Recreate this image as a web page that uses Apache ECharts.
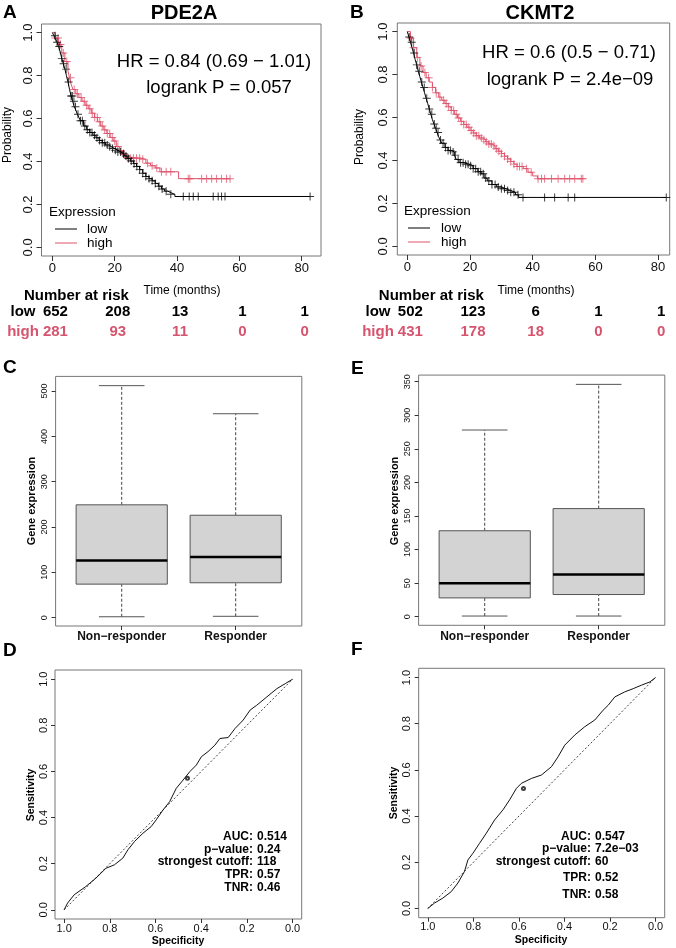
<!DOCTYPE html>
<html>
<head>
<meta charset="utf-8">
<script src="https://cdn.jsdelivr.net/npm/echarts@6/dist/echarts.min.js"></script>
<style>html,body{margin:0;padding:0;background:#fff}#main{width:676px;height:948px}</style>
</head>
<body>
<div id="main"></div>
<script>
// Kaplan-Meier curves, [time (months), survival probability]
var kmLowA = [[0,1],[0.5,0.985],[1,0.97],[1.5,0.955],[2,0.935],[2.5,0.91],[3,0.88],[3.5,0.855],[4,0.83],[4.5,0.8],[5,0.77],[5.5,0.735],[6,0.705],[6.5,0.68],[7,0.655],[7.5,0.64],[8,0.62],[8.5,0.605],[9,0.59],[10,0.565],[11,0.548],[12,0.535],[13,0.522],[14,0.51],[15,0.498],[16,0.487],[17,0.477],[18,0.468],[19,0.46],[20,0.452],[21,0.444],[22,0.436],[23,0.426],[24,0.414],[25,0.402],[26,0.39],[27,0.377],[28,0.362],[29,0.345],[30,0.33],[31,0.32],[32,0.31],[33,0.298],[34,0.285],[35,0.272],[36,0.262],[37,0.255],[38,0.247],[39.3,0.237],[82.7,0.237]];
var kmHighA = [[0,1],[1,0.975],[2,0.945],[3,0.905],[4,0.865],[5,0.82],[5.5,0.79],[6,0.76],[6.6,0.735],[7.5,0.715],[8.5,0.698],[9.5,0.68],[10.5,0.662],[11.5,0.645],[12.5,0.625],[13.5,0.605],[14.5,0.585],[15.5,0.565],[16.5,0.547],[17.5,0.53],[18.5,0.512],[19.5,0.495],[20.5,0.47],[21.5,0.45],[22.5,0.432],[23.5,0.42],[25,0.415],[28.5,0.41],[30,0.392],[31.5,0.38],[33,0.37],[34.5,0.352],[40.5,0.32],[57,0.32]];
var kmLowB = [[0,1],[0.5,0.975],[1,0.95],[1.5,0.925],[2,0.9],[2.5,0.87],[3,0.845],[3.5,0.815],[4,0.79],[4.5,0.765],[5,0.74],[5.5,0.715],[6,0.69],[6.5,0.665],[7,0.64],[7.5,0.615],[8,0.59],[8.5,0.57],[9,0.55],[9.5,0.53],[10,0.51],[10.5,0.495],[11,0.48],[12,0.46],[13,0.447],[14,0.44],[15,0.425],[15.6,0.405],[16.5,0.39],[18,0.383],[19.5,0.375],[21,0.362],[22.5,0.348],[23.5,0.338],[24.5,0.318],[25.5,0.305],[27,0.288],[28.5,0.277],[30,0.268],[31.5,0.26],[33,0.252],[34.5,0.24],[35.5,0.228],[82.6,0.228]];
var kmHighB = [[0,1],[1,0.97],[2,0.925],[3,0.88],[4,0.84],[5,0.81],[6,0.785],[7,0.765],[8,0.74],[9,0.715],[10,0.695],[11,0.68],[12,0.665],[13,0.65],[14,0.633],[15,0.615],[16,0.598],[17,0.582],[18,0.568],[19,0.555],[20,0.54],[21,0.528],[22,0.515],[23,0.505],[24,0.497],[25,0.487],[26,0.477],[27,0.468],[28,0.455],[29,0.443],[30,0.432],[31,0.42],[32,0.407],[33,0.395],[34,0.383],[35,0.372],[37,0.362],[38.5,0.345],[40,0.328],[41.5,0.315],[56,0.315]];

// censoring times
var censLowA = [0.8,1.5,2.2,3,3.6,4.4,5.2,6,6.4,6.9,7.4,8.2,9,9.6,10.4,11.2,12,12.7,13.5,14.3,15.1,16,16.8,17.6,18.4,19.3,20.2,21,21.9,22.8,23.6,24.4,25.3,26.2,27.1,28,29,30,31,32,33,34.2,35.2,36.5,38,42,43.9,45.2,46.8,51.6,53.2,54.3,55.4,82.7];
var censHighA = [1,1.8,2.6,3.5,4.6,5.8,7,8,9.2,10.2,11,12,12.8,13.6,14.4,15.2,16,16.8,17.6,18.4,19.2,20,21,22,23,24,25,26,27,28,29,30.5,32,33.5,35,36.5,38,43.6,44.1,47.9,49.5,51.1,52.7,54.3,55.9,57];
var censLowB = [0.6,1.4,2.2,3,3.8,4.6,5.4,6.2,7,7.8,8.6,9.2,9.8,10.6,11.4,12.2,13,13.8,14.6,15.3,16.2,17,17.8,18.6,19.4,20.2,21,21.8,22.6,23.4,24.2,25,26,27,28,29,30,31,32,33,34,35.3,36.9,43.8,47,51.3,53.4,82.6];
var censHighB = [1,2,3.2,4.4,5.6,6.8,8,9.2,10.4,11.6,12.4,13.2,14,14.8,15.6,16.4,17.2,18,18.8,19.6,20.4,21.2,22,22.8,23.6,24.4,25.2,26,26.8,27.6,28.4,29.2,30,31,32,33,34,35,35.8,36.6,38,39.5,41.7,42.8,43.8,46,48.1,50.2,51.8,53.4,55.5,56];

// number at risk
var riskTimes = [0, 20, 40, 60, 80];
var riskLowA = [652, 208, 13, 1, 1];
var riskHighA = [281, 93, 11, 0, 0];
var riskLowB = [502, 123, 6, 1, 1];
var riskHighB = [431, 178, 18, 0, 0];

// boxplots: [min, q1, median, q3, max]
var boxCats = ['Non\u2212responder', 'Responder'];
var boxC = [[2, 74, 126, 249, 512], [3, 77, 134, 226, 450]];
var boxE = [[1, 28, 50, 128, 278], [1, 33, 63, 161, 346]];

// ROC curves: [specificity, sensitivity]
var rocD = [[1,0],[0.985,0.029],[0.956,0.065],[0.905,0.101],[0.861,0.137],[0.817,0.18],[0.78,0.195],[0.743,0.224],[0.721,0.26],[0.692,0.296],[0.655,0.332],[0.619,0.361],[0.597,0.39],[0.567,0.433],[0.538,0.469],[0.509,0.527],[0.479,0.563],[0.45,0.599],[0.421,0.628],[0.399,0.664],[0.37,0.686],[0.34,0.714],[0.318,0.743],[0.282,0.747],[0.252,0.786],[0.216,0.823],[0.186,0.866],[0.157,0.887],[0.113,0.923],[0.069,0.959],[0.032,0.981],[0,1]];
var rocF = [[1,0],[0.971,0.023],[0.934,0.045],[0.897,0.073],[0.868,0.11],[0.839,0.16],[0.824,0.21],[0.802,0.239],[0.773,0.282],[0.743,0.326],[0.707,0.383],[0.67,0.427],[0.641,0.47],[0.611,0.52],[0.589,0.542],[0.545,0.563],[0.501,0.578],[0.457,0.614],[0.428,0.657],[0.399,0.707],[0.355,0.751],[0.311,0.787],[0.267,0.816],[0.23,0.859],[0.208,0.88],[0.179,0.916],[0.135,0.938],[0.098,0.952],[0.062,0.967],[0.025,0.981],[0,1]];
var cutD = [0.46, 0.57];
var cutF = [0.58, 0.52];
var statLabels = ['AUC:', 'p\u2212value:', 'strongest cutoff:', 'TPR:', 'TNR:'];
var statD = ['0.514', '0.24', '118', '0.57', '0.46'];
var statF = ['0.547', '7.2e\u221203', '60', '0.52', '0.58'];

var kmTicksX = [0, 20, 40, 60, 80];
var probTicks = [0, 0.2, 0.4, 0.6, 0.8, 1.0];
var ticksC = [0, 100, 200, 300, 400, 500];
var ticksE = [0, 50, 100, 150, 200, 250, 300, 350];

var FONT = '"Liberation Sans", Arial, Helvetica, sans-serif';
var RED = '#DF536B';
var RISKRED = '#D6546E';

function stepAt(curve, t) {
    var s = curve[0][1];
    for (var i = 0; i < curve.length; i++) {
        if (curve[i][0] <= t) s = curve[i][1];
    }
    return s;
}
function censorPts(curve, times) {
    return times.map(function (t) { return [t, stepAt(curve, t)]; });
}

function xAxisOf(idx, min, max, ticks, fmt, size, margin, tick) {
    return {
        type: 'value', gridIndex: idx, min: min, max: max, position: 'bottom',
        axisLine: { show: false, onZero: false }, splitLine: { show: false },
        axisTick: { show: true, length: tick, customValues: ticks, lineStyle: { color: '#333' } },
        axisLabel: { customValues: ticks, formatter: fmt, fontSize: size, color: '#111', fontFamily: FONT, margin: margin }
    };
}
function yAxisOf(idx, min, max, ticks, fmt, size, margin, tick) {
    return {
        type: 'value', gridIndex: idx, min: min, max: max, position: 'left',
        axisLine: { show: false, onZero: false }, splitLine: { show: false },
        axisTick: { show: true, length: tick, customValues: ticks, lineStyle: { color: '#333' } },
        axisLabel: { customValues: ticks, formatter: fmt, fontSize: size, color: '#111', fontFamily: FONT, rotate: 90, margin: margin }
    };
}
function fmt1(v) { return v.toFixed(1); }
function fmt0(v) { return String(v); }
function fmtCat(v) { return boxCats[Math.round(v) - 1]; }

function gridOf(l, t, w, h) {
    return { left: l, top: t, width: w, height: h, show: true, borderColor: '#777', borderWidth: 1, outerBoundsMode: 'none' };
}

function renderBox(params, api) {
    var x = api.value(0);
    var lo = api.coord([x, api.value(1)]);
    var q1 = api.coord([x, api.value(2)]);
    var md = api.coord([x, api.value(3)]);
    var q3 = api.coord([x, api.value(4)]);
    var hi = api.coord([x, api.value(5)]);
    var bw = api.size([0.8, 0])[0];
    var cw = bw / 4;
    var dash = { stroke: '#444', lineWidth: 1, lineDash: [3, 2] };
    var solid = { stroke: '#555', lineWidth: 1 };
    return {
        type: 'group',
        children: [
            { type: 'line', shape: { x1: lo[0], y1: lo[1], x2: q1[0], y2: q1[1] }, style: dash },
            { type: 'line', shape: { x1: q3[0], y1: q3[1], x2: hi[0], y2: hi[1] }, style: dash },
            { type: 'line', shape: { x1: lo[0] - cw, y1: lo[1], x2: lo[0] + cw, y2: lo[1] }, style: solid },
            { type: 'line', shape: { x1: hi[0] - cw, y1: hi[1], x2: hi[0] + cw, y2: hi[1] }, style: solid },
            { type: 'rect', shape: { x: q3[0] - bw / 2, y: q3[1], width: bw, height: q1[1] - q3[1] }, style: { fill: '#d3d3d3', stroke: '#555', lineWidth: 1 } },
            { type: 'line', shape: { x1: md[0] - bw / 2, y1: md[1], x2: md[0] + bw / 2, y2: md[1] }, style: { stroke: '#000', lineWidth: 2.5 } }
        ]
    };
}
function boxRows(box) {
    return box.map(function (b, i) { return [i + 1].concat(b); });
}

// plus-shaped censor mark
var plusSym = 'path://M4.4,0h1.2v10h-1.2z M0,4.4h10v1.2h-10z';

function kmSeries(idx, low, high, cl, ch) {
    return [
        { type: 'line', xAxisIndex: idx, yAxisIndex: idx, data: low, step: 'end', showSymbol: false, lineStyle: { color: '#000', width: 1 }, z: 3 },
        { type: 'line', xAxisIndex: idx, yAxisIndex: idx, data: high, step: 'end', showSymbol: false, lineStyle: { color: RED, width: 1 }, z: 2 },
        { type: 'scatter', xAxisIndex: idx, yAxisIndex: idx, data: censorPts(low, cl), symbol: plusSym, symbolSize: 8, itemStyle: { color: '#000' }, z: 3 },
        { type: 'scatter', xAxisIndex: idx, yAxisIndex: idx, data: censorPts(high, ch), symbol: plusSym, symbolSize: 8, itemStyle: { color: RED }, z: 2 }
    ];
}
function rocSeries(idx, roc, cut) {
    return [
        { type: 'line', xAxisIndex: idx, yAxisIndex: idx, data: [[1, 0], [0, 1]], showSymbol: false, lineStyle: { color: '#444', width: 1, type: [2, 2] } },
        { type: 'line', xAxisIndex: idx, yAxisIndex: idx, data: roc, showSymbol: false, lineStyle: { color: '#111', width: 1 } },
        { type: 'scatter', xAxisIndex: idx, yAxisIndex: idx, data: [cut], symbol: 'emptyCircle', symbolSize: 3, itemStyle: { color: '#111', borderWidth: 0.8 } }
    ];
}

function txt(x, y, s, size, opt) {
    opt = opt || {};
    return {
        type: 'text', x: x, y: y, rotation: opt.rot || 0, silent: true,
        style: { text: s, fontSize: size, fontFamily: FONT, fontWeight: opt.bold ? 'bold' : 'normal', fill: opt.color || '#000',
            textAlign: opt.align || 'left', textVerticalAlign: 'middle' }
    };
}

var chart = echarts.init(document.getElementById('main'));

var option = {
    animation: false,
    backgroundColor: '#fff',
    grid: [
        gridOf(41.5, 24, 279.5, 232),
        gridOf(397.3, 23, 272.4, 232),
        gridOf(55.6, 376.4, 246.2, 249.6),
        gridOf(418.6, 375.1, 246.2, 250.2),
        gridOf(55, 670, 246.7, 249),
        gridOf(418.7, 668.3, 246, 249.4)
    ],
    xAxis: [
        xAxisOf(0, -3.5, 86.2, kmTicksX, fmt0, 13, 6, 5),
        xAxisOf(1, -3.2, 83.7, kmTicksX, fmt0, 13, 6, 5),
        xAxisOf(2, 0.42, 2.58, [1, 2], fmtCat, 12, 5, 4),
        xAxisOf(3, 0.42, 2.58, [1, 2], fmtCat, 12, 5, 4),
        Object.assign(xAxisOf(4, -0.04, 1.04, probTicks, fmt1, 11, 4, 4), { inverse: true }),
        Object.assign(xAxisOf(5, -0.04, 1.04, probTicks, fmt1, 11, 4, 4), { inverse: true })
    ],
    yAxis: [
        yAxisOf(0, -0.04, 1.04, probTicks, fmt1, 13, 7, 5),
        yAxisOf(1, -0.04, 1.04, probTicks, fmt1, 13, 7, 5),
        yAxisOf(2, -18.4, 532.4, ticksC, fmt0, 9, 7, 4),
        yAxisOf(3, -12.8, 359.8, ticksE, fmt0, 9, 7, 4),
        yAxisOf(4, -0.04, 1.04, probTicks, fmt1, 11, 6, 4),
        yAxisOf(5, -0.04, 1.04, probTicks, fmt1, 11, 6, 4)
    ],
    series: [].concat(
        kmSeries(0, kmLowA, kmHighA, censLowA, censHighA),
        kmSeries(1, kmLowB, kmHighB, censLowB, censHighB),
        [
            { type: 'custom', xAxisIndex: 2, yAxisIndex: 2, data: boxRows(boxC), renderItem: renderBox, encode: { x: 0, y: [1, 2, 3, 4, 5] } },
            { type: 'custom', xAxisIndex: 3, yAxisIndex: 3, data: boxRows(boxE), renderItem: renderBox, encode: { x: 0, y: [1, 2, 3, 4, 5] } }
        ],
        rocSeries(4, rocD, cutD),
        rocSeries(5, rocF, cutF)
    )
};
// bold category labels
option.xAxis[2].axisLabel.fontWeight = 'bold';
option.xAxis[3].axisLabel.fontWeight = 'bold';

chart.setOption(option);

var g = [];
// panel letters and titles
g.push(txt(3, 13, 'A', 19, { bold: true }));
g.push(txt(350, 13, 'B', 19, { bold: true }));
g.push(txt(3, 368, 'C', 19, { bold: true }));
g.push(txt(351, 369, 'E', 19, { bold: true }));
g.push(txt(3, 651, 'D', 19, { bold: true }));
g.push(txt(351, 650, 'F', 19, { bold: true }));
g.push(txt(184, 13, 'PDE2A', 20, { bold: true, align: 'center' }));
g.push(txt(540, 13, 'CKMT2', 20, { bold: true, align: 'center' }));
// HR text
g.push(txt(214, 62, 'HR = 0.84 (0.69 \u2212 1.01)', 18.5, { align: 'center' }));
g.push(txt(219, 88, 'logrank P = 0.057', 18.5, { align: 'center' }));
g.push(txt(569, 53, 'HR = 0.6 (0.5 \u2212 0.71)', 18.5, { align: 'center' }));
g.push(txt(570, 80, 'logrank P = 2.4e\u221209', 18.5, { align: 'center' }));
// legends
[[49, 55, 87], [404, 408, 441]].forEach(function (p, k) {
    var y0 = k === 0 ? 212 : 211;
    g.push(txt(p[0], y0, 'Expression', 13.5));
    g.push({ type: 'line', silent: true, shape: { x1: p[1], y1: y0 + 17, x2: p[1] + 22, y2: y0 + 17 }, style: { stroke: '#000', lineWidth: 1 } });
    g.push({ type: 'line', silent: true, shape: { x1: p[1], y1: y0 + 31, x2: p[1] + 22, y2: y0 + 31 }, style: { stroke: RED, lineWidth: 1 } });
    g.push(txt(p[2], y0 + 17, 'low', 13.5));
    g.push(txt(p[2], y0 + 31, 'high', 13.5));
});
// axis titles
g.push(txt(8, 135, 'Probability', 12, { rot: Math.PI / 2, align: 'center' }));
g.push(txt(360, 137, 'Probability', 12, { rot: Math.PI / 2, align: 'center' }));
g.push(txt(182, 291, 'Time (months)', 12, { align: 'center' }));
g.push(txt(536, 291, 'Time (months)', 12, { align: 'center' }));
g.push(txt(32, 501, 'Gene expression', 11, { rot: Math.PI / 2, align: 'center', bold: true }));
g.push(txt(395, 501, 'Gene expression', 11, { rot: Math.PI / 2, align: 'center', bold: true }));
g.push(txt(31, 795, 'Sensitivity', 10.5, { rot: Math.PI / 2, align: 'center', bold: true }));
g.push(txt(394, 793, 'Sensitivity', 10.5, { rot: Math.PI / 2, align: 'center', bold: true }));
g.push(txt(178, 941, 'Specificity', 10.5, { align: 'center', bold: true }));
g.push(txt(541, 940, 'Specificity', 10.5, { align: 'center', bold: true }));
// number at risk tables
[[0, riskLowA, riskHighA, 23], [1, riskLowB, riskHighB, 378]].forEach(function (p) {
    var x0 = chart.convertToPixel({ xAxisIndex: p[0] }, 0);
    g.push(txt(x0 + 24, 296, 'Number at risk', 15, { bold: true, align: 'center' }));
    g.push(txt(p[3], 312, 'low', 15, { bold: true, align: 'center' }));
    g.push(txt(p[3], 332, 'high', 15, { bold: true, align: 'center', color: RISKRED }));
    riskTimes.forEach(function (t, i) {
        var x = chart.convertToPixel({ xAxisIndex: p[0] }, t) + 3;
        g.push(txt(x, 312, String(p[1][i]), 15, { bold: true, align: 'center' }));
        g.push(txt(x, 332, String(p[2][i]), 15, { bold: true, align: 'center', color: RISKRED }));
    });
});
// ROC statistics
[[253, [837, 849.5, 862, 875, 887.5], statD], [591, [837, 849, 862, 878, 895], statF]].forEach(function (p) {
    statLabels.forEach(function (s, i) {
        g.push(txt(p[0], p[1][i], s, 12, { bold: true, align: 'right' }));
        g.push(txt(p[0] + 4, p[1][i], p[2][i], 12, { bold: true }));
    });
});

chart.setOption({ graphic: g });
</script>
</body>
</html>
